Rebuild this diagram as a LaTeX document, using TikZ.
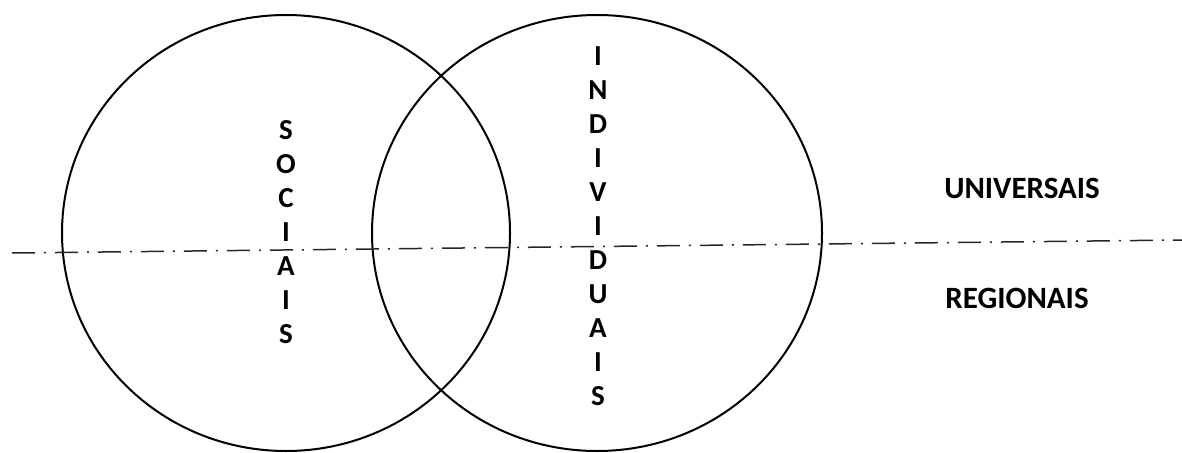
\documentclass[tikz,border=0pt]{standalone}
\usepackage{fontspec}
\setmainfont{Carlito}
\begin{document}
\begin{tikzpicture}[x=1pt,y=-1pt,
  ring/.style={draw=black,line width=2pt},
  axisline/.style={draw=black!85,line width=1.5pt,dash pattern=on 23pt off 9pt on 2pt off 9pt},
  lbl/.style={font=\fontsize{31}{33}\selectfont\bfseries,inner sep=0pt,anchor=center},
  vlbl/.style={font=\fontsize{29}{34}\selectfont\bfseries,inner sep=0pt,align=center,anchor=north}
]
\useasboundingbox (0,0) rectangle (1182,452);
\draw[ring] (286,233) ellipse [x radius=224,y radius=218];
\draw[ring] (597,233) ellipse [x radius=225,y radius=218];
\coordinate (L) at (12,253);
\coordinate (R) at (1182,240);
\draw[axisline] (L) -- (R);
\node[vlbl] (soc) at (286,120) {S\\O\\C\\I\\A\\I\\S};
\node[vlbl] (ind) at (598,46) {I\\N\\D\\I\\V\\I\\D\\U\\A\\I\\S};
\node[lbl] (uni) at (1022,188) {UNIVERSAIS};
\node[lbl] (reg) at (1017,298) {REGIONAIS};
\end{tikzpicture}
\end{document}
